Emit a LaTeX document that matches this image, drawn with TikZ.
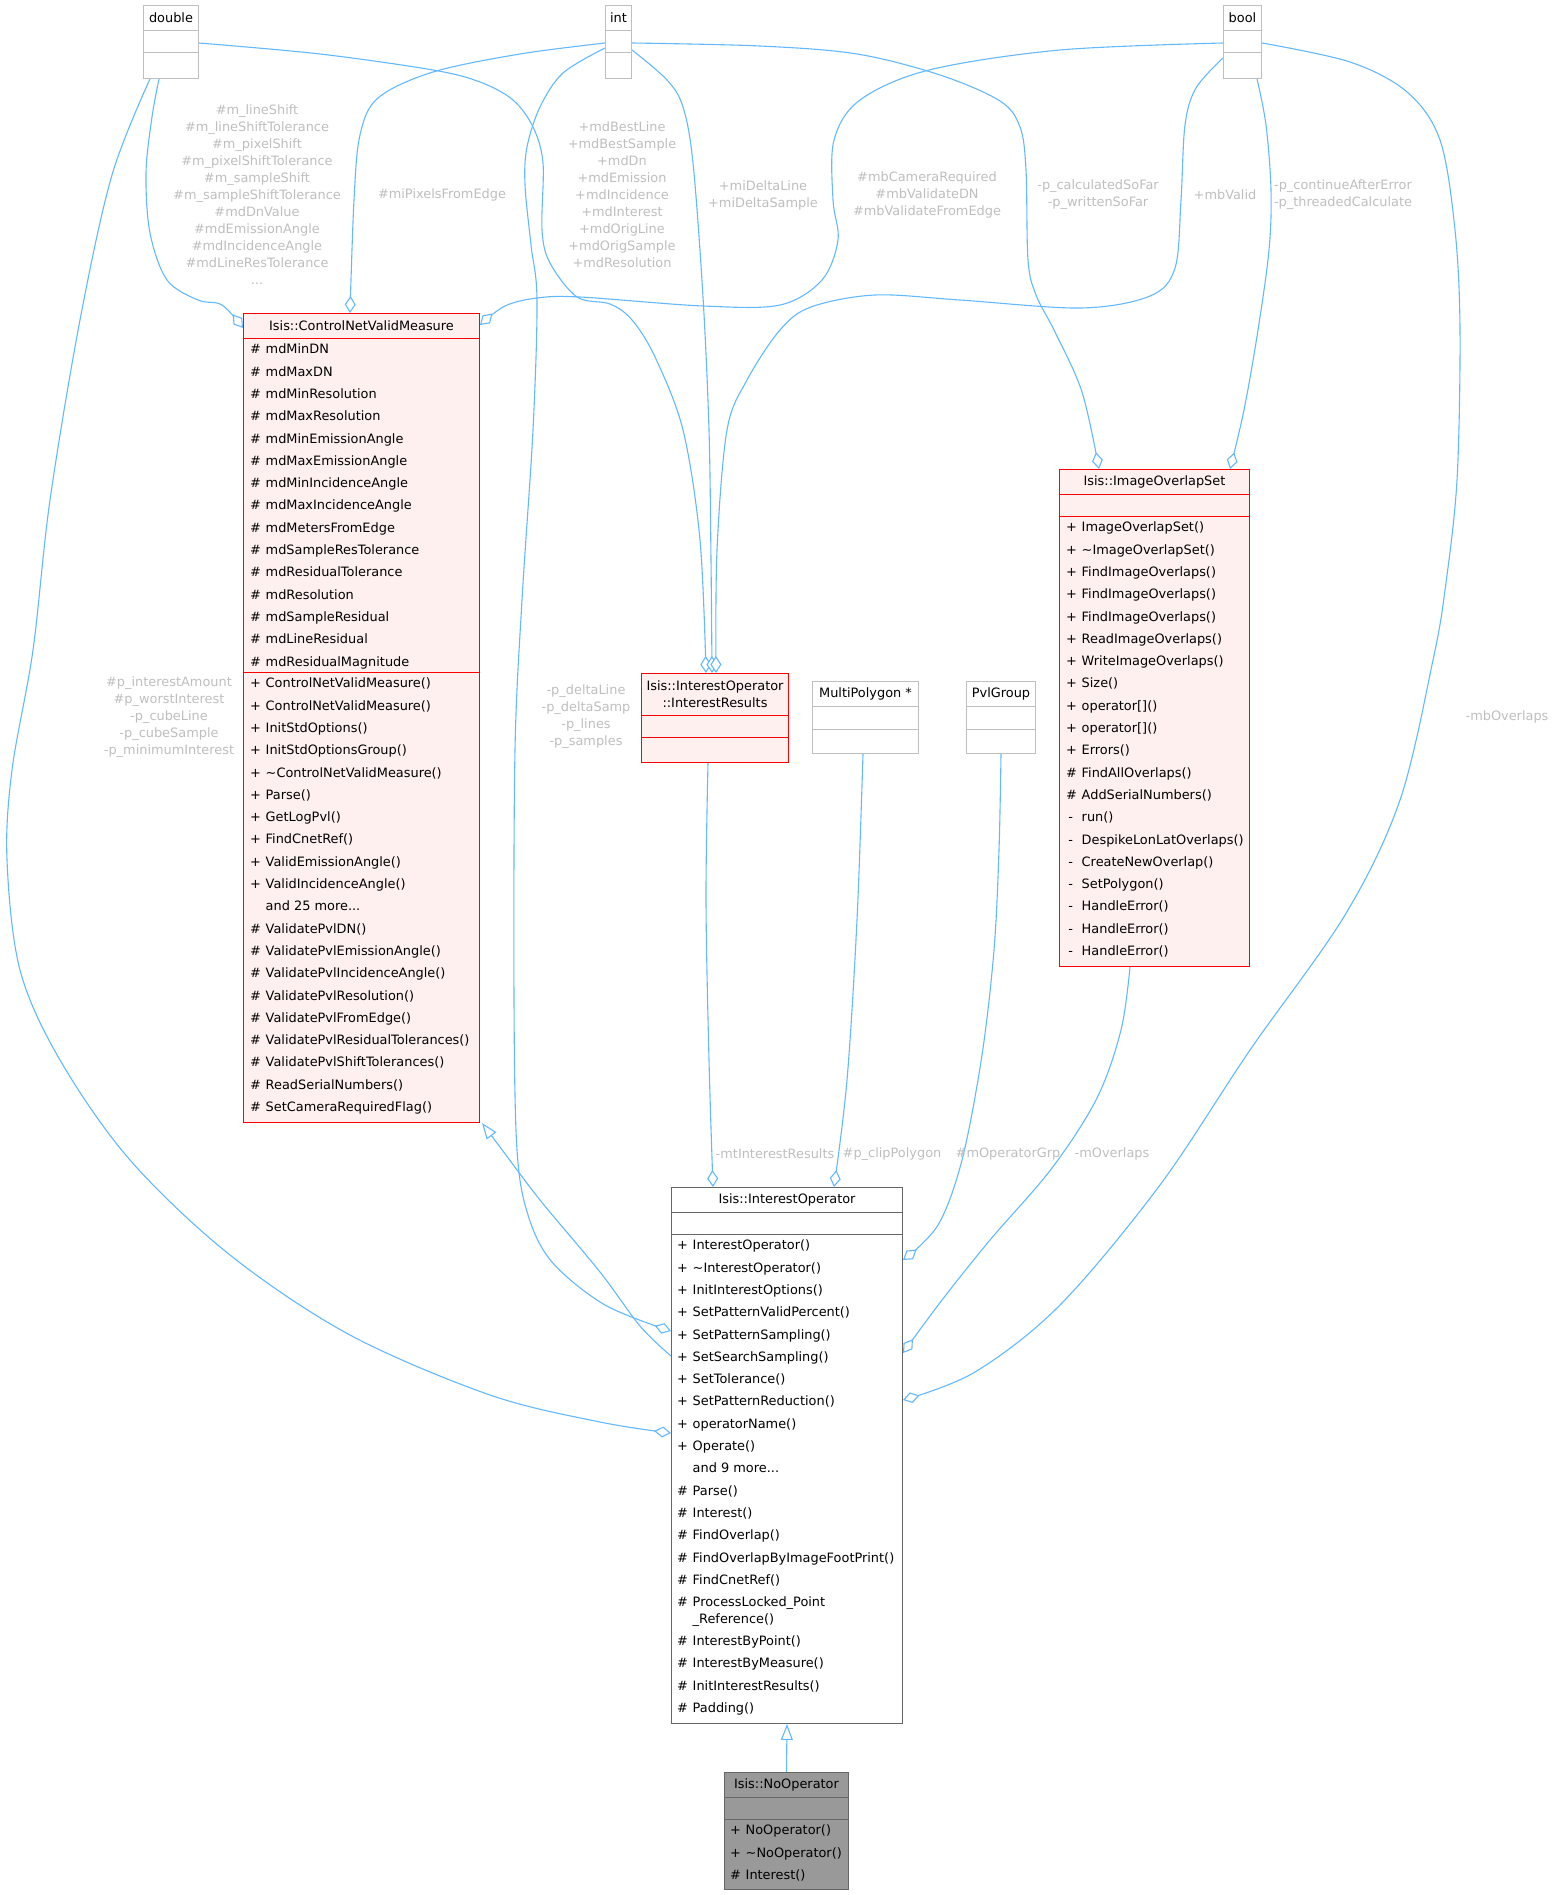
\documentclass[tikz,border=0pt]{standalone}
\usepackage{fontspec}
\setmainfont{DejaVu Sans}
\usetikzlibrary{arrows.meta}
\definecolor{edgec}{HTML}{63B8FF}
\definecolor{lblc}{HTML}{BEBEBE}
\definecolor{redfill}{HTML}{FFF0F0}
\definecolor{graybd}{HTML}{BFBFBF}
\definecolor{darkbd}{HTML}{666666}
\definecolor{nofill}{HTML}{999999}
\newcommand\cfrow{\fontsize{12.9}{22.3}\selectfont}
\newcommand\cflbl{\fontsize{12.9}{17}\selectfont}
\newcommand\mrow[2]{\makebox[15.5pt][l]{#1}#2}
\newcommand\clsep[3]{\draw[#1] ([yshift=-#3pt]#2.north west) -- ([yshift=-#3pt]#2.north east);}
\pgfdeclarelayer{edgelayer}
\pgfsetlayers{edgelayer,main}
\tikzset{
  cls/.style={anchor=north west, inner sep=0, line width=1pt},
  redbox/.style={cls, draw=red, fill=redfill},
  graybox/.style={cls, draw=graybd, fill=white},
  iobox/.style={cls, draw=darkbd, fill=white},
  nobox/.style={cls, draw=darkbd, fill=nofill},
  ttl/.style={font=\cflbl, align=center, inner sep=0, anchor=center},
  rows/.style={font=\cfrow, inner sep=0, anchor=north west},
  lbl/.style={font=\cflbl, text=lblc, align=center, inner sep=0},
  agg/.style={draw=edgec, line width=1.1pt, -{Diamond[fill=white, length=17pt, width=11pt]}},
  inh/.style={draw=edgec, line width=1.1pt, -{Triangle[fill=white, length=16pt, width=12pt]}},
}
\begin{document}
\begin{tikzpicture}[x=1pt, y=-1pt]
\useasboundingbox (0,0) rectangle (1555,1895);

% ---------- class boxes ----------
\node[graybox, minimum width=55pt, minimum height=73pt] (dbl) at (143,5) {};
\node[graybox, minimum width=26pt, minimum height=73pt] (int) at (605,5) {};
\node[graybox, minimum width=38pt, minimum height=73pt] (bool) at (1223,5) {};
\node[redbox, minimum width=236pt, minimum height=809pt] (cnvm) at (243,313) {};
\node[redbox, minimum width=190pt, minimum height=497pt] (ios) at (1059,469) {};
\node[redbox, minimum width=147pt, minimum height=89pt] (ir) at (641,673) {};
\node[graybox, minimum width=106pt, minimum height=72pt] (mp) at (812,681) {};
\node[graybox, minimum width=69pt, minimum height=72pt] (pvl) at (966,681) {};
\node[iobox, minimum width=231pt, minimum height=536pt] (io) at (671,1187) {};
\node[nobox, minimum width=124pt, minimum height=117pt] (noop) at (724,1772) {};

% ---------- edges ----------
\begin{pgfonlayer}{edgelayer}
% double -> CNVM
\draw[agg] plot[smooth, tension=0.55] coordinates {([xshift=16pt]dbl.south west) (152,117) (146,173) (150,233) (167,280) (198,300) (222,305) ([yshift=-15pt]cnvm.north west)};
% double -> InterestOperator
\draw[agg] plot[smooth, tension=0.55] coordinates {([xshift=7pt]dbl.south west) (112,175) (80,320) (50,500) (33,650) (12,770) (7,860) (20,970) (60,1060) (130,1160) (230,1255) (350,1335) (490,1395) (600,1422) ([yshift=-246pt]io.north west)};
% double -> InterestResults
\draw[agg] plot[smooth, tension=0.55] coordinates {([yshift=-38pt]dbl.north east) (320,54) (433,70) (480,82) (513,100) (533,127) (543,163) (542,230) (550,263) (577,297) (610,304) (632,320) (655,357) (683,430) (700,540) ([xshift=65pt]ir.north west)};
% int -> CNVM
\draw[agg] plot[smooth, tension=0.55] coordinates {([yshift=-38pt]int.north west) (520,54) (433,72) (378,98) (360,135) (354,200) ([xshift=107pt]cnvm.north west)};
% int -> InterestResults
\draw[agg] plot[smooth, tension=0.55] coordinates {([yshift=-45pt]int.north east) (667,80) (683,107) (693,163) (703,297) (709,430) (711,560) ([xshift=71pt]ir.north west)};
% int -> InterestOperator
\draw[agg] plot[smooth, tension=0.55] coordinates {([yshift=-43pt]int.north west) (563,73) (540,107) (527,147) (525,185) (531,245) (537,300) (533,430) (522,600) (515,750) (514,1000) (517,1150) (528,1215) (552,1262) (605,1305) ([yshift=-144pt]io.north west)};
% int -> ImageOverlapSet
\draw[agg] plot[smooth, tension=0.55] coordinates {([yshift=-38pt]int.north east) (760,46) (857,54) (940,75) (1000,101) (1020,127) (1026,170) (1028,260) (1036,295) (1055,332) (1082,392) ([xshift=40pt]ios.north west)};
% bool -> CNVM
\draw[agg] plot[smooth, tension=0.55] coordinates {([yshift=-38pt]bool.north west) (1060,50) (929,70) (860,100) (834,140) (833,200) (838,240) (822,280) (780,305) (703,306) (580,297) (537,298) (505,306) ([yshift=-12pt]cnvm.north east)};
% bool -> InterestResults
\draw[agg] plot[smooth, tension=0.55] coordinates {([yshift=-53pt]bool.north west) (1196,88) (1185,125) (1181,200) (1175,268) (1150,296) (1081,308) (960,300) (875,295) (811,307) (780,330) (747,380) (727,430) (717,550) ([xshift=75pt]ir.north west)};
% bool -> ImageOverlapSet
\draw[agg] plot[smooth, tension=0.55] coordinates {([xshift=34pt]bool.south west) (1266,125) (1271,190) (1269,250) (1258,330) (1244,410) ([xshift=171pt]ios.north west)};
% bool -> InterestOperator
\draw[agg] plot[smooth, tension=0.55] coordinates {([yshift=-38pt]bool.north east) (1350,62) (1407,92) (1440,140) (1455,230) (1460,330) (1457,480) (1445,590) (1433,660) (1400,800) (1345,915) (1250,1050) (1160,1185) (1060,1305) (975,1372) ([yshift=-213pt]io.north east)};
% InterestResults -> InterestOperator
\draw[agg] plot[smooth, tension=0.55] coordinates {([xshift=67pt]ir.south west) (706,900) (709,1060) ([xshift=42pt]io.north west)};
% MultiPolygon -> InterestOperator
\draw[agg] plot[smooth, tension=0.55] coordinates {([xshift=51pt]mp.south west) (857,920) (847,1080) ([xshift=163pt]io.north west)};
% PvlGroup -> InterestOperator
\draw[agg] plot[smooth, tension=0.55] coordinates {([xshift=35pt]pvl.south west) (999,850) (994,950) (982,1055) (962,1160) (938,1225) ([yshift=-73pt]io.north east)};
% ImageOverlapSet -> InterestOperator
\draw[agg] plot[smooth, tension=0.55] coordinates {([xshift=71pt]ios.south west) (1121,1030) (1097,1098) (1052,1168) (990,1240) (942,1300) ([yshift=-166pt]io.north east)};
% InterestOperator -> ControlNetValidMeasure (inheritance)
\draw[inh] plot[smooth, tension=0.55] coordinates {([yshift=-169pt]io.north west) (640,1326) (600,1272) (540,1200) (500,1147) ([xshift=2pt]cnvm.south east)};
% NoOperator -> InterestOperator (inheritance)
\draw[inh] (noop.north) -- (io.south);
\end{pgfonlayer}

% separators
\clsep{graybd, line width=1pt}{dbl}{25}
\clsep{graybd, line width=1pt}{dbl}{47}
\clsep{graybd, line width=1pt}{int}{25}
\clsep{graybd, line width=1pt}{int}{47}
\clsep{graybd, line width=1pt}{bool}{25}
\clsep{graybd, line width=1pt}{bool}{47}
\clsep{red, line width=1pt}{cnvm}{25}
\clsep{red, line width=1pt}{cnvm}{359}
\clsep{red, line width=1pt}{ios}{25}
\clsep{red, line width=1pt}{ios}{47}
\clsep{red, line width=1pt}{ir}{42}
\clsep{red, line width=1pt}{ir}{64}
\clsep{graybd, line width=1pt}{mp}{25}
\clsep{graybd, line width=1pt}{mp}{48}
\clsep{graybd, line width=1pt}{pvl}{25}
\clsep{graybd, line width=1pt}{pvl}{48}
\clsep{darkbd, line width=1pt}{io}{25}
\clsep{darkbd, line width=1pt}{io}{47}
\clsep{darkbd, line width=1pt}{noop}{25}
\clsep{darkbd, line width=1pt}{noop}{47}

% titles
\node[ttl] (dbl-t) at ([yshift=-13pt]dbl.north) {double};
\node[ttl] (int-t) at ([yshift=-13pt]int.north) {int};
\node[ttl] (bool-t) at ([yshift=-13pt]bool.north) {bool};
\node[ttl] (cnvm-t) at ([yshift=-13pt]cnvm.north) {Isis::ControlNetValidMeasure};
\node[ttl] (ios-t) at ([yshift=-13pt]ios.north) {Isis::ImageOverlapSet};
\node[ttl] (ir-t) at ([yshift=-21.5pt]ir.north) {Isis::InterestOperator\\::InterestResults};
\node[ttl] (mp-t) at ([yshift=-13pt]mp.north) {MultiPolygon *};
\node[ttl] (pvl-t) at ([yshift=-13pt]pvl.north) {PvlGroup};
\node[ttl] (io-t) at ([yshift=-13pt]io.north) {Isis::InterestOperator};
\node[ttl] (noop-t) at ([yshift=-13pt]noop.north) {Isis::NoOperator};

% CNVM members
\node[rows] (cnvm-a) at ([xshift=7pt,yshift=-25pt]cnvm.north west) {\begin{tabular}{@{}l@{}}
\mrow{\#}{mdMinDN}\\
\mrow{\#}{mdMaxDN}\\
\mrow{\#}{mdMinResolution}\\
\mrow{\#}{mdMaxResolution}\\
\mrow{\#}{mdMinEmissionAngle}\\
\mrow{\#}{mdMaxEmissionAngle}\\
\mrow{\#}{mdMinIncidenceAngle}\\
\mrow{\#}{mdMaxIncidenceAngle}\\
\mrow{\#}{mdMetersFromEdge}\\
\mrow{\#}{mdSampleResTolerance}\\
\mrow{\#}{mdResidualTolerance}\\
\mrow{\#}{mdResolution}\\
\mrow{\#}{mdSampleResidual}\\
\mrow{\#}{mdLineResidual}\\
\mrow{\#}{mdResidualMagnitude}
\end{tabular}};
\node[rows] (cnvm-m) at ([xshift=7pt,yshift=-359pt]cnvm.north west) {\begin{tabular}{@{}l@{}}
\mrow{+}{ControlNetValidMeasure()}\\
\mrow{+}{ControlNetValidMeasure()}\\
\mrow{+}{InitStdOptions()}\\
\mrow{+}{InitStdOptionsGroup()}\\
\mrow{+}{\textasciitilde ControlNetValidMeasure()}\\
\mrow{+}{Parse()}\\
\mrow{+}{GetLogPvl()}\\
\mrow{+}{FindCnetRef()}\\
\mrow{+}{ValidEmissionAngle()}\\
\mrow{+}{ValidIncidenceAngle()}\\
\mrow{}{and 25 more...}\\
\mrow{\#}{ValidatePvlDN()}\\
\mrow{\#}{ValidatePvlEmissionAngle()}\\
\mrow{\#}{ValidatePvlIncidenceAngle()}\\
\mrow{\#}{ValidatePvlResolution()}\\
\mrow{\#}{ValidatePvlFromEdge()}\\
\mrow{\#}{ValidatePvlResidualTolerances()}\\
\mrow{\#}{ValidatePvlShiftTolerances()}\\
\mrow{\#}{ReadSerialNumbers()}\\
\mrow{\#}{SetCameraRequiredFlag()}
\end{tabular}};

% ImageOverlapSet members
\node[rows] (ios-m) at ([xshift=7pt,yshift=-47pt]ios.north west) {\begin{tabular}{@{}l@{}}
\mrow{+}{ImageOverlapSet()}\\
\mrow{+}{\textasciitilde ImageOverlapSet()}\\
\mrow{+}{FindImageOverlaps()}\\
\mrow{+}{FindImageOverlaps()}\\
\mrow{+}{FindImageOverlaps()}\\
\mrow{+}{ReadImageOverlaps()}\\
\mrow{+}{WriteImageOverlaps()}\\
\mrow{+}{Size()}\\
\mrow{+}{operator[]()}\\
\mrow{+}{operator[]()}\\
\mrow{+}{Errors()}\\
\mrow{\#}{FindAllOverlaps()}\\
\mrow{\#}{AddSerialNumbers()}\\
\mrow{\,-}{run()}\\
\mrow{\,-}{DespikeLonLatOverlaps()}\\
\mrow{\,-}{CreateNewOverlap()}\\
\mrow{\,-}{SetPolygon()}\\
\mrow{\,-}{HandleError()}\\
\mrow{\,-}{HandleError()}\\
\mrow{\,-}{HandleError()}
\end{tabular}};

% InterestOperator members
\node[rows] (io-m) at ([xshift=6pt,yshift=-47pt]io.north west) {\begin{tabular}{@{}l@{}}
\mrow{+}{InterestOperator()}\\
\mrow{+}{\textasciitilde InterestOperator()}\\
\mrow{+}{InitInterestOptions()}\\
\mrow{+}{SetPatternValidPercent()}\\
\mrow{+}{SetPatternSampling()}\\
\mrow{+}{SetSearchSampling()}\\
\mrow{+}{SetTolerance()}\\
\mrow{+}{SetPatternReduction()}\\
\mrow{+}{operatorName()}\\
\mrow{+}{Operate()}\\
\mrow{}{and 9 more...}\\
\mrow{\#}{Parse()}\\
\mrow{\#}{Interest()}\\
\mrow{\#}{FindOverlap()}\\
\mrow{\#}{FindOverlapByImageFootPrint()}\\
\mrow{\#}{FindCnetRef()}\\
\mrow{\#}{ProcessLocked\_Point}\\[-5.8pt]
\mrow{}{\_Reference()}\\
\mrow{\#}{InterestByPoint()}\\
\mrow{\#}{InterestByMeasure()}\\
\mrow{\#}{InitInterestResults()}\\
\mrow{\#}{Padding()}
\end{tabular}};

% NoOperator members
\node[rows] (noop-m) at ([xshift=6pt,yshift=-47pt]noop.north west) {\begin{tabular}{@{}l@{}}
\mrow{+}{NoOperator()}\\
\mrow{+}{\textasciitilde NoOperator()}\\
\mrow{\#}{Interest()}
\end{tabular}};

% ---------- edge labels ----------
\node[lbl] (l-dcnvm) at (257,195) {\#m\_lineShift\\\#m\_lineShiftTolerance\\\#m\_pixelShift\\\#m\_pixelShiftTolerance\\\#m\_sampleShift\\\#m\_sampleShiftTolerance\\\#mdDnValue\\\#mdEmissionAngle\\\#mdIncidenceAngle\\\#mdLineResTolerance\\...};
\node[lbl] (l-icnvm) at (442,195) {\#miPixelsFromEdge};
\node[lbl] (l-dir) at (622,195) {+mdBestLine\\+mdBestSample\\+mdDn\\+mdEmission\\+mdIncidence\\+mdInterest\\+mdOrigLine\\+mdOrigSample\\+mdResolution};
\node[lbl] (l-iir) at (763,195) {+miDeltaLine\\+miDeltaSample};
\node[lbl] (l-bcnvm) at (927,195) {\#mbCameraRequired\\\#mbValidateDN\\\#mbValidateFromEdge};
\node[lbl] (l-iios) at (1098,195) {-p\_calculatedSoFar\\-p\_writtenSoFar};
\node[lbl] (l-bir) at (1225,195) {+mbValid};
\node[lbl] (l-bios) at (1343,195) {-p\_continueAfterError\\-p\_threadedCalculate};
\node[lbl] (l-dio) at (169,717) {\#p\_interestAmount\\\#p\_worstInterest\\-p\_cubeLine\\-p\_cubeSample\\-p\_minimumInterest};
\node[lbl] (l-iio) at (586,717) {-p\_deltaLine\\-p\_deltaSamp\\-p\_lines\\-p\_samples};
\node[lbl] (l-bio) at (1507,717) {-mbOverlaps};
\node[lbl] (l-irio) at (775,1154) {-mtInterestResults};
\node[lbl] (l-mpio) at (892,1154) {\#p\_clipPolygon};
\node[lbl] (l-pvlio) at (1008,1154) {\#mOperatorGrp};
\node[lbl] (l-iosio) at (1112,1154) {-mOverlaps};
\end{tikzpicture}
\end{document}
